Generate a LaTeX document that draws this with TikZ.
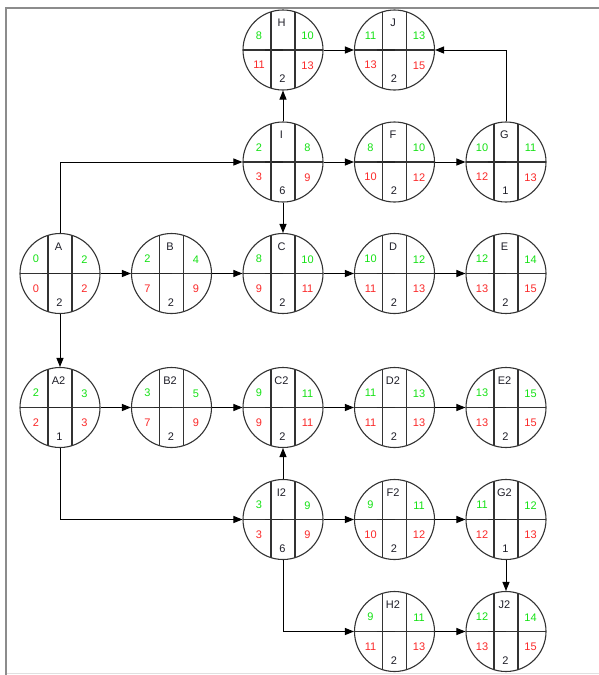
\documentclass[tikz,border=0pt]{standalone}
\usepackage{fontspec}
\setmainfont{Liberation Sans}
\usetikzlibrary{arrows.meta}
\definecolor{grn}{RGB}{20,225,20}
\definecolor{rd}{RGB}{250,40,40}
\definecolor{txt}{RGB}{30,30,40}
\tikzset{
  evcircle/.style={circle, minimum size=80pt, inner sep=0pt, draw=black!80, line width=1.1pt},
  evline/.style={draw=black!80, line width=1.1pt},
  evmid/.style={draw=black!85, line width=1.6pt},
  evtxt/.style={font=\fontsize{11}{13}\selectfont, inner sep=0pt, text=txt},
  esef/.style={evtxt, text=grn},
  lslf/.style={evtxt, text=rd},
  conn/.style={draw=black, line width=1pt, -{Triangle[length=9pt,width=7pt]}},
  frameline/.style={draw=black!45, line width=2pt}
}
\newcommand\pertev[8]{%
  \node[evcircle] (#1) at #2 {};
  \begin{scope}[shift={(#1.center)}]
    \draw[evline] (-40,0) -- (40,0);
    \draw[evmid] (-18,0) -- (0,0);
    \draw[evline] (-12,-38.2) -- (-12,38.2);
    \draw[evline] (12,-38.2) -- (12,38.2);
    \node[evtxt] (#1-n) at (-1.5,-27) {#3};
    \node[esef] (#1-es) at (-24,-14.5) {#4};
    \node[esef] (#1-ef) at (24.5,-14) {#5};
    \node[lslf] (#1-ls) at (-24,15) {#6};
    \node[lslf] (#1-lf) at (24.5,15.5) {#7};
    \node[evtxt] (#1-d) at (-0.5,29) {#8};
  \end{scope}
}
\begin{document}
\begin{tikzpicture}[x=1pt,y=-1pt]
\useasboundingbox (0,0) rectangle (599,675);
\draw[frameline] (6,675) -- (6,8) -- (599,8);
\draw[draw=black!12, line width=1pt] (7,673.5) -- (599,673.5);

\pertev{H}{(283,50)}{H}{8}{10}{11}{13}{2}
\pertev{J}{(394.5,50)}{J}{11}{13}{13}{15}{2}
\pertev{I}{(283,162)}{I}{2}{8}{3}{9}{6}
\pertev{F}{(394.5,162)}{F}{8}{10}{10}{12}{2}
\pertev{G}{(506,162)}{G}{10}{11}{12}{13}{1}
\pertev{A}{(60,273.5)}{A}{0}{2}{0}{2}{2}
\pertev{B}{(171.5,273.5)}{B}{2}{4}{7}{9}{2}
\pertev{C}{(283,273.5)}{C}{8}{10}{9}{11}{2}
\pertev{D}{(394.5,273.5)}{D}{10}{12}{11}{13}{2}
\pertev{E}{(506,273.5)}{E}{12}{14}{13}{15}{2}
\pertev{A2}{(60,407.5)}{A2}{2}{3}{2}{3}{1}
\pertev{B2}{(171.5,407.5)}{B2}{3}{5}{7}{9}{2}
\pertev{C2}{(283,407.5)}{C2}{9}{11}{9}{11}{2}
\pertev{D2}{(394.5,407.5)}{D2}{11}{13}{11}{13}{2}
\pertev{E2}{(506,407.5)}{E2}{13}{15}{13}{15}{2}
\pertev{I2}{(283,519.5)}{I2}{3}{9}{3}{9}{6}
\pertev{F2}{(394.5,519.5)}{F2}{9}{11}{10}{12}{2}
\pertev{G2}{(506,519.5)}{G2}{11}{12}{12}{13}{1}
\pertev{H2}{(394.5,631.5)}{H2}{9}{11}{11}{13}{2}
\pertev{J2}{(506,631.5)}{J2}{12}{14}{13}{15}{2}

\draw[conn] (A) -- (B);
\draw[conn] (A.north) |- (I.west);
\draw[conn] (A) -- (A2);
\draw[conn] (A2.south) |- (I2.west);
\draw[conn] (A2) -- (B2);
\draw[conn] (B2) -- (C2);
\draw[conn] (C2) -- (D2);
\draw[conn] (D2) -- (E2);
\draw[conn] (I2) -- (C2);
\draw[conn] (I2) -- (F2);
\draw[conn] (I2.south) |- (H2.west);
\draw[conn] (F2) -- (G2);
\draw[conn] (G2) -- (J2);
\draw[conn] (H2) -- (J2);
\draw[conn] (B) -- (C);
\draw[conn] (C) -- (D);
\draw[conn] (D) -- (E);
\draw[conn] (I) -- (C);
\draw[conn] (I) -- (H);
\draw[conn] (I) -- (F);
\draw[conn] (F) -- (G);
\draw[conn] (G.north) |- (J.east);
\draw[conn] (H) -- (J);
\end{tikzpicture}
\end{document}
